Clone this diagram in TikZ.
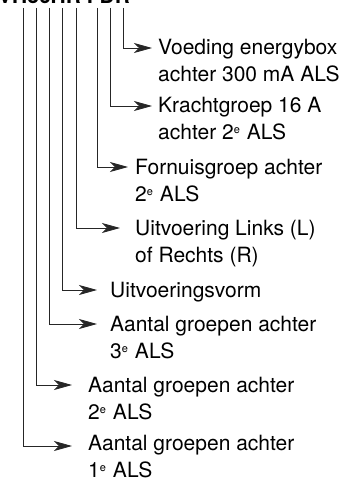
\documentclass[tikz,border=0pt]{standalone}
\usepackage{fontspec}
\setmainfont{TeX Gyre Heros}
\usetikzlibrary{arrows.meta}
\newcommand{\ordsup}[1]{\raisebox{6pt}{\fontsize{11}{11}\selectfont #1}\hspace{7pt}}
\begin{document}
\begin{tikzpicture}[x=1pt,y=-1pt,
  lbl/.style={anchor=base west, inner sep=0pt, align=left, font=\fontsize{21}{27}\selectfont},
  vline/.style={draw=black!85, line width=0.8pt},
  arr/.style={vline, -{Stealth[length=18pt,width=10pt,inset=5pt]}},
]
\useasboundingbox (0,0) rectangle (353,481);
\begin{scope}
\clip (0,0) rectangle (353,481);
\node[anchor=base west, inner sep=0pt, font=\bfseries\fontsize{21}{27}\selectfont] (title) at (-2,4) {VH36HR FDR};
\end{scope}
\coordinate (t1) at (123,8);
\coordinate (t2) at (110,8);
\coordinate (t3) at (97,8);
\coordinate (t4) at (76,8);
\coordinate (t5) at (62,8);
\coordinate (t6) at (49,8);
\coordinate (t7) at (36,8);
\coordinate (t8) at (23,8);
\node[lbl] (n1) at (158,82) {Voeding energybox\\achter 300 mA ALS};
\node[lbl] (n2) at (158,140) {Krachtgroep 16 A\\achter 2\ordsup{e}ALS};
\node[lbl] (n3) at (135,201) {Fornuisgroep achter\\2\ordsup{e}ALS};
\node[lbl] (n4) at (135,262) {Uitvoering Links (L)\\of Rechts (R)};
\node[lbl] (n5) at (110,297) {Uitvoeringsvorm};
\node[lbl] (n6) at (110,358) {Aantal groepen achter\\3\ordsup{e}ALS};
\node[lbl] (n7) at (88,419) {Aantal groepen achter\\2\ordsup{e}ALS};
\node[lbl] (n8) at (88,477) {Aantal groepen achter\\1\ordsup{e}ALS};
\draw[arr] (t1) |- ([xshift=-6pt,yshift=34pt]n1.base west);
\draw[arr] (t2) |- ([xshift=-6pt,yshift=34pt]n2.base west);
\draw[arr] (t3) |- ([xshift=-7pt,yshift=34pt]n3.base west);
\draw[arr] (t4) |- ([xshift=-15pt,yshift=34pt]n4.base west);
\draw[arr] (t5) |- ([xshift=-13pt,yshift=7pt]n5.base west);
\draw[arr] (t6) |- ([xshift=-13pt,yshift=34pt]n6.base west);
\draw[arr] (t7) |- ([xshift=-16pt,yshift=34pt]n7.base west);
\draw[arr] (t8) |- ([xshift=-16pt,yshift=31pt]n8.base west);
\end{tikzpicture}
\end{document}
